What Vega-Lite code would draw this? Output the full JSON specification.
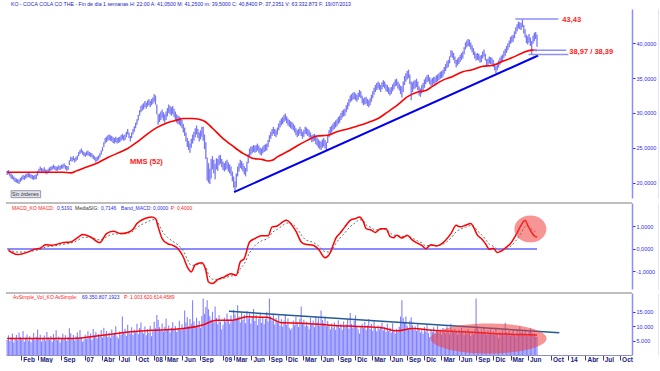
{
"$schema":"https://vega.github.io/schema/vega-lite/v6.json",
"padding":{"left":3,"top":1,"right":0,"bottom":0},
"background":"white",
"title":{"text":"KO - COCA COLA CO THE - Fin de día 1 semanas H: 22:00 A: 41,0500 M: 41,2500 m: 39,5000 C: 40,8400 P: 37,2351 V: 63.332.873 F: 19/07/2013","anchor":"start","fontSize":5.2,"font":"Liberation Sans","fontWeight":"normal","color":"#2424c8","offset":2,"dx":7},
"config":{"view":{"stroke":null},"text":{"font":"Liberation Sans"}},
"spacing":3,
"datasets":{
"w":[
{"t":"2005-11-18","h":21.7,"l":21.1,"v":5200},{"t":"2005-11-25","h":21.8,"l":21.2,"v":6800},{"t":"2005-12-02","h":21.5,"l":20.9,"v":4800},{"t":"2005-12-09","h":21.3,"l":20.6,"v":6100},{"t":"2005-12-16","h":21.1,"l":20.5,"v":7400},{"t":"2005-12-23","h":20.9,"l":20.3,"v":4300},{"t":"2005-12-30","h":20.7,"l":20.1,"v":5600},
{"t":"2006-01-06","h":20.6,"l":20.0,"v":6900},{"t":"2006-01-13","h":20.5,"l":19.9,"v":5100},{"t":"2006-01-20","h":20.4,"l":19.8,"v":7800},{"t":"2006-01-27","h":20.7,"l":20.1,"v":6200},{"t":"2006-02-03","h":20.9,"l":20.3,"v":5400},{"t":"2006-02-10","h":21.1,"l":20.5,"v":8300},{"t":"2006-02-17","h":21.0,"l":20.4,"v":4600},{"t":"2006-02-24","h":21.2,"l":20.6,"v":6000},{"t":"2006-03-03","h":21.3,"l":20.7,"v":7100},{"t":"2006-03-10","h":21.4,"l":20.8,"v":5000},{"t":"2006-03-17","h":21.3,"l":20.7,"v":6500},{"t":"2006-03-24","h":21.2,"l":20.6,"v":4400},{"t":"2006-03-31","h":21.1,"l":20.5,"v":5800},{"t":"2006-04-07","h":21.0,"l":20.4,"v":7600},{"t":"2006-04-14","h":21.1,"l":20.5,"v":5200},{"t":"2006-04-21","h":21.2,"l":20.5,"v":6300},{"t":"2006-04-28","h":21.7,"l":21.0,"v":8800},{"t":"2006-05-05","h":22.0,"l":21.4,"v":5900},{"t":"2006-05-12","h":22.3,"l":21.7,"v":7000},{"t":"2006-05-19","h":22.1,"l":21.5,"v":4700},{"t":"2006-05-26","h":22.0,"l":21.4,"v":5500},{"t":"2006-06-02","h":22.2,"l":21.6,"v":6700},{"t":"2006-06-09","h":21.9,"l":21.3,"v":4900},{"t":"2006-06-16","h":21.8,"l":21.2,"v":7900},{"t":"2006-06-23","h":22.0,"l":21.4,"v":6100},{"t":"2006-06-30","h":22.2,"l":21.6,"v":5300},{"t":"2006-07-07","h":22.3,"l":21.7,"v":6600},{"t":"2006-07-14","h":22.4,"l":21.8,"v":4500},{"t":"2006-07-21","h":22.6,"l":22.0,"v":7200},{"t":"2006-07-28","h":22.4,"l":21.8,"v":5700},{"t":"2006-08-04","h":22.3,"l":21.7,"v":8500},{"t":"2006-08-11","h":22.3,"l":21.7,"v":5100},{"t":"2006-08-18","h":22.5,"l":21.9,"v":6400},{"t":"2006-08-25","h":22.4,"l":21.8,"v":4200},{"t":"2006-09-01","h":22.6,"l":22.0,"v":5900},{"t":"2006-09-08","h":22.6,"l":22.0,"v":7300},{"t":"2006-09-15","h":22.8,"l":22.2,"v":5500},{"t":"2006-09-22","h":22.5,"l":21.9,"v":6800},{"t":"2006-09-29","h":22.4,"l":21.7,"v":4800},{"t":"2006-10-06","h":22.4,"l":21.8,"v":6200},{"t":"2006-10-13","h":23.2,"l":22.5,"v":9200},{"t":"2006-10-20","h":23.7,"l":23.1,"v":7500},{"t":"2006-10-27","h":23.6,"l":23.0,"v":5600},{"t":"2006-11-03","h":23.8,"l":23.2,"v":6900},{"t":"2006-11-10","h":23.5,"l":22.9,"v":5000},{"t":"2006-11-17","h":23.7,"l":23.1,"v":6400},{"t":"2006-11-24","h":23.9,"l":23.3,"v":7800},{"t":"2006-12-01","h":24.4,"l":23.8,"v":5800},{"t":"2006-12-08","h":24.7,"l":24.1,"v":8600},{"t":"2006-12-15","h":24.9,"l":24.3,"v":6200},{"t":"2006-12-22","h":24.6,"l":24.0,"v":4600},{"t":"2006-12-29","h":24.4,"l":23.8,"v":5300},
{"t":"2007-01-05","h":24.3,"l":23.7,"v":7000},{"t":"2007-01-12","h":24.5,"l":23.9,"v":5600},{"t":"2007-01-19","h":24.6,"l":23.9,"v":8200},{"t":"2007-01-26","h":24.4,"l":23.8,"v":6300},{"t":"2007-02-02","h":24.3,"l":23.7,"v":7400},{"t":"2007-02-09","h":24.2,"l":23.6,"v":5200},{"t":"2007-02-16","h":24.0,"l":23.4,"v":9000},{"t":"2007-02-23","h":23.8,"l":23.2,"v":6700},{"t":"2007-03-02","h":23.6,"l":22.9,"v":7900},{"t":"2007-03-09","h":23.7,"l":23.1,"v":5800},{"t":"2007-03-16","h":23.9,"l":23.3,"v":7200},{"t":"2007-03-23","h":24.2,"l":23.6,"v":6500},{"t":"2007-03-30","h":24.6,"l":24.0,"v":8600},{"t":"2007-04-06","h":25.1,"l":24.5,"v":6000},{"t":"2007-04-13","h":25.8,"l":25.1,"v":9400},{"t":"2007-04-20","h":26.4,"l":25.6,"v":7100},{"t":"2007-04-27","h":26.6,"l":25.8,"v":8300},{"t":"2007-05-04","h":26.8,"l":26.0,"v":6200},{"t":"2007-05-11","h":26.9,"l":26.1,"v":7700},{"t":"2007-05-18","h":26.8,"l":26.0,"v":5900},{"t":"2007-05-25","h":26.7,"l":25.9,"v":8800},{"t":"2007-06-01","h":26.5,"l":25.7,"v":6800},{"t":"2007-06-08","h":26.4,"l":25.6,"v":7400},{"t":"2007-06-15","h":26.6,"l":25.8,"v":9900},{"t":"2007-06-22","h":26.4,"l":25.6,"v":6400},{"t":"2007-06-29","h":26.5,"l":25.7,"v":5700},{"t":"2007-07-06","h":26.6,"l":25.8,"v":8100},{"t":"2007-07-13","h":26.8,"l":26.0,"v":7000},{"t":"2007-07-20","h":27.0,"l":26.2,"v":13300},{"t":"2007-07-27","h":26.8,"l":26.0,"v":7600},{"t":"2007-08-03","h":26.9,"l":26.1,"v":9100},{"t":"2007-08-10","h":27.3,"l":26.5,"v":6600},{"t":"2007-08-17","h":27.7,"l":26.9,"v":10400},{"t":"2007-08-24","h":27.2,"l":26.4,"v":8200},{"t":"2007-08-31","h":26.7,"l":25.9,"v":7300},{"t":"2007-09-07","h":27.2,"l":26.4,"v":9600},{"t":"2007-09-14","h":27.7,"l":26.9,"v":6900},{"t":"2007-09-21","h":28.1,"l":27.3,"v":8700},{"t":"2007-09-28","h":28.6,"l":27.8,"v":7800},{"t":"2007-10-05","h":29.1,"l":28.3,"v":10800},{"t":"2007-10-12","h":29.7,"l":28.9,"v":7200},{"t":"2007-10-19","h":30.4,"l":29.6,"v":9300},{"t":"2007-10-26","h":31.0,"l":30.1,"v":11200},{"t":"2007-11-02","h":31.2,"l":30.3,"v":8000},{"t":"2007-11-09","h":31.4,"l":30.5,"v":7400},{"t":"2007-11-16","h":31.7,"l":30.8,"v":9800},{"t":"2007-11-23","h":31.5,"l":30.6,"v":6800},{"t":"2007-11-30","h":31.8,"l":30.9,"v":8900},{"t":"2007-12-07","h":32.0,"l":31.1,"v":7600},{"t":"2007-12-14","h":31.7,"l":30.8,"v":10100},{"t":"2007-12-21","h":32.0,"l":31.1,"v":6500},{"t":"2007-12-28","h":32.2,"l":31.3,"v":8400},
{"t":"2008-01-04","h":32.7,"l":31.6,"v":11500},{"t":"2008-01-11","h":32.5,"l":31.2,"v":9200},{"t":"2008-01-18","h":31.2,"l":29.8,"v":13800},{"t":"2008-01-25","h":29.8,"l":28.3,"v":12100},{"t":"2008-02-01","h":29.9,"l":28.7,"v":9600},{"t":"2008-02-08","h":30.2,"l":29.0,"v":8400},{"t":"2008-02-15","h":30.5,"l":29.3,"v":10900},{"t":"2008-02-22","h":30.1,"l":28.9,"v":8100},{"t":"2008-02-29","h":29.8,"l":28.6,"v":9700},{"t":"2008-03-07","h":30.2,"l":29.0,"v":12600},{"t":"2008-03-14","h":30.7,"l":29.5,"v":8900},{"t":"2008-03-21","h":31.2,"l":30.0,"v":10200},{"t":"2008-03-28","h":31.0,"l":29.8,"v":7800},{"t":"2008-04-04","h":30.8,"l":29.6,"v":9400},{"t":"2008-04-11","h":31.0,"l":29.8,"v":11300},{"t":"2008-04-18","h":30.6,"l":29.4,"v":8600},{"t":"2008-04-25","h":30.2,"l":29.0,"v":10000},{"t":"2008-05-02","h":29.8,"l":28.6,"v":7900},{"t":"2008-05-09","h":29.6,"l":28.4,"v":9200},{"t":"2008-05-16","h":29.5,"l":28.3,"v":11800},{"t":"2008-05-23","h":29.3,"l":28.1,"v":8700},{"t":"2008-05-30","h":29.0,"l":27.8,"v":10600},{"t":"2008-06-06","h":28.4,"l":27.2,"v":9300},{"t":"2008-06-13","h":27.9,"l":26.7,"v":15400},{"t":"2008-06-20","h":27.2,"l":25.9,"v":11200},{"t":"2008-06-27","h":26.4,"l":25.1,"v":13000},{"t":"2008-07-04","h":26.0,"l":24.7,"v":9900},{"t":"2008-07-11","h":25.6,"l":24.3,"v":12400},{"t":"2008-07-18","h":26.3,"l":25.0,"v":10800},{"t":"2008-07-25","h":26.9,"l":25.6,"v":18900},{"t":"2008-08-01","h":27.3,"l":26.0,"v":11600},{"t":"2008-08-08","h":27.8,"l":26.5,"v":9800},{"t":"2008-08-15","h":28.2,"l":26.9,"v":12900},{"t":"2008-08-22","h":27.7,"l":26.4,"v":10300},{"t":"2008-08-29","h":27.2,"l":25.9,"v":11700},{"t":"2008-09-05","h":27.5,"l":26.2,"v":9400},{"t":"2008-09-12","h":28.0,"l":26.6,"v":13500},{"t":"2008-09-19","h":28.0,"l":26.0,"v":19500},{"t":"2008-09-26","h":26.9,"l":24.8,"v":14200},{"t":"2008-10-03","h":25.8,"l":23.4,"v":16600},{"t":"2008-10-10","h":23.6,"l":20.3,"v":18900},{"t":"2008-10-17","h":22.8,"l":20.0,"v":15800},{"t":"2008-10-24","h":22.0,"l":19.8,"v":13400},{"t":"2008-10-31","h":23.4,"l":20.6,"v":12200},{"t":"2008-11-07","h":23.8,"l":21.9,"v":14900},{"t":"2008-11-14","h":23.3,"l":21.3,"v":11300},{"t":"2008-11-21","h":22.7,"l":20.5,"v":16700},{"t":"2008-11-28","h":23.5,"l":21.9,"v":12800},{"t":"2008-12-05","h":23.4,"l":21.7,"v":10600},{"t":"2008-12-12","h":23.9,"l":22.5,"v":13700},{"t":"2008-12-19","h":24.0,"l":22.7,"v":11400},{"t":"2008-12-26","h":23.4,"l":22.2,"v":8900},
{"t":"2009-01-02","h":23.0,"l":21.8,"v":10400},{"t":"2009-01-09","h":22.8,"l":21.6,"v":12900},{"t":"2009-01-16","h":23.1,"l":21.8,"v":11500},{"t":"2009-01-23","h":23.3,"l":22.0,"v":14300},{"t":"2009-01-30","h":22.9,"l":21.6,"v":12200},{"t":"2009-02-06","h":22.6,"l":21.3,"v":10800},{"t":"2009-02-13","h":22.3,"l":21.0,"v":13600},{"t":"2009-02-20","h":21.6,"l":20.2,"v":11900},{"t":"2009-02-27","h":20.9,"l":19.3,"v":15600},{"t":"2009-03-06","h":20.2,"l":18.7,"v":14100},{"t":"2009-03-13","h":21.3,"l":19.3,"v":12700},{"t":"2009-03-20","h":22.3,"l":20.9,"v":17200},{"t":"2009-03-27","h":22.8,"l":21.6,"v":13300},{"t":"2009-04-03","h":23.3,"l":22.1,"v":11200},{"t":"2009-04-10","h":23.1,"l":21.9,"v":14800},{"t":"2009-04-17","h":22.8,"l":21.6,"v":12100},{"t":"2009-04-24","h":22.4,"l":21.2,"v":13900},{"t":"2009-05-01","h":22.1,"l":20.9,"v":11000},{"t":"2009-05-08","h":23.0,"l":21.6,"v":15200},{"t":"2009-05-15","h":24.1,"l":22.8,"v":12600},{"t":"2009-05-22","h":24.9,"l":23.7,"v":14400},{"t":"2009-05-29","h":25.2,"l":24.0,"v":10900},{"t":"2009-06-05","h":25.2,"l":24.2,"v":13100},{"t":"2009-06-12","h":25.4,"l":24.4,"v":15900},{"t":"2009-06-19","h":25.3,"l":24.3,"v":11700},{"t":"2009-06-26","h":25.4,"l":24.4,"v":13800},{"t":"2009-07-03","h":25.6,"l":24.6,"v":10300},{"t":"2009-07-10","h":25.3,"l":24.3,"v":12400},{"t":"2009-07-17","h":25.0,"l":24.0,"v":14600},{"t":"2009-07-24","h":24.9,"l":23.9,"v":11100},{"t":"2009-07-31","h":25.2,"l":24.2,"v":13200},{"t":"2009-08-07","h":25.4,"l":24.4,"v":10700},{"t":"2009-08-14","h":25.5,"l":24.5,"v":12500},{"t":"2009-08-21","h":25.6,"l":24.6,"v":14900},{"t":"2009-08-28","h":26.1,"l":25.1,"v":11600},{"t":"2009-09-04","h":26.8,"l":25.8,"v":19500},{"t":"2009-09-11","h":27.3,"l":26.3,"v":13400},{"t":"2009-09-18","h":27.7,"l":26.7,"v":11900},{"t":"2009-09-25","h":28.0,"l":27.0,"v":14200},{"t":"2009-10-02","h":27.7,"l":26.7,"v":10500},{"t":"2009-10-09","h":27.5,"l":26.5,"v":12800},{"t":"2009-10-16","h":27.9,"l":26.9,"v":11300},{"t":"2009-10-23","h":28.5,"l":27.5,"v":13700},{"t":"2009-10-30","h":28.9,"l":27.9,"v":10100},{"t":"2009-11-06","h":29.2,"l":28.2,"v":12300},{"t":"2009-11-13","h":29.4,"l":28.4,"v":9800},{"t":"2009-11-20","h":29.7,"l":28.7,"v":11800},{"t":"2009-11-27","h":29.9,"l":28.9,"v":14100},{"t":"2009-12-04","h":29.5,"l":28.5,"v":10400},{"t":"2009-12-11","h":29.2,"l":28.2,"v":12600},{"t":"2009-12-18","h":29.0,"l":28.0,"v":9400},{"t":"2009-12-25","h":28.8,"l":27.8,"v":8700},
{"t":"2010-01-01","h":28.7,"l":27.7,"v":9200},{"t":"2010-01-08","h":28.5,"l":27.5,"v":11900},{"t":"2010-01-15","h":28.2,"l":27.2,"v":10300},{"t":"2010-01-22","h":27.8,"l":26.8,"v":13100},{"t":"2010-01-29","h":27.5,"l":26.5,"v":11400},{"t":"2010-02-05","h":27.7,"l":26.7,"v":9700},{"t":"2010-02-12","h":28.0,"l":27.0,"v":12500},{"t":"2010-02-19","h":27.7,"l":26.7,"v":16700},{"t":"2010-02-26","h":27.3,"l":26.3,"v":10900},{"t":"2010-03-05","h":27.6,"l":26.6,"v":12200},{"t":"2010-03-12","h":28.0,"l":27.0,"v":9800},{"t":"2010-03-19","h":27.9,"l":26.9,"v":11500},{"t":"2010-03-26","h":27.7,"l":26.7,"v":10100},{"t":"2010-04-02","h":27.5,"l":26.5,"v":8900},{"t":"2010-04-09","h":27.2,"l":26.2,"v":12800},{"t":"2010-04-16","h":26.8,"l":25.8,"v":10600},{"t":"2010-04-23","h":26.9,"l":25.9,"v":11900},{"t":"2010-04-30","h":27.0,"l":26.0,"v":9600},{"t":"2010-05-07","h":26.8,"l":25.5,"v":13400},{"t":"2010-05-14","h":26.5,"l":25.3,"v":11200},{"t":"2010-05-21","h":26.2,"l":25.0,"v":12700},{"t":"2010-05-28","h":26.0,"l":24.8,"v":10200},{"t":"2010-06-04","h":25.9,"l":24.7,"v":15400},{"t":"2010-06-11","h":26.2,"l":25.0,"v":12100},{"t":"2010-06-18","h":26.4,"l":25.2,"v":11000},{"t":"2010-06-25","h":26.1,"l":24.9,"v":13300},{"t":"2010-07-02","h":25.8,"l":24.6,"v":9900},{"t":"2010-07-09","h":26.9,"l":25.7,"v":11700},{"t":"2010-07-16","h":27.5,"l":26.5,"v":10400},{"t":"2010-07-23","h":28.0,"l":27.0,"v":8800},{"t":"2010-07-30","h":28.2,"l":27.2,"v":10900},{"t":"2010-08-06","h":28.5,"l":27.5,"v":9500},{"t":"2010-08-13","h":28.7,"l":27.7,"v":11300},{"t":"2010-08-20","h":28.9,"l":27.9,"v":8600},{"t":"2010-08-27","h":29.1,"l":28.1,"v":10200},{"t":"2010-09-03","h":29.4,"l":28.4,"v":12000},{"t":"2010-09-10","h":29.6,"l":28.6,"v":9300},{"t":"2010-09-17","h":30.0,"l":29.0,"v":10800},{"t":"2010-09-24","h":30.3,"l":29.3,"v":8700},{"t":"2010-10-01","h":30.5,"l":29.5,"v":11600},{"t":"2010-10-08","h":30.6,"l":29.6,"v":9800},{"t":"2010-10-15","h":31.1,"l":30.1,"v":10500},{"t":"2010-10-22","h":31.5,"l":30.5,"v":12300},{"t":"2010-10-29","h":32.0,"l":31.0,"v":9100},{"t":"2010-11-05","h":32.5,"l":31.5,"v":14500},{"t":"2010-11-12","h":32.7,"l":31.7,"v":10700},{"t":"2010-11-19","h":32.9,"l":31.9,"v":9400},{"t":"2010-11-26","h":33.0,"l":32.0,"v":11800},{"t":"2010-12-03","h":32.8,"l":31.8,"v":13700},{"t":"2010-12-10","h":32.6,"l":31.6,"v":10000},{"t":"2010-12-17","h":32.9,"l":31.9,"v":8900},{"t":"2010-12-24","h":33.3,"l":32.3,"v":7400},{"t":"2010-12-31","h":33.1,"l":32.1,"v":9600},
{"t":"2011-01-07","h":32.5,"l":31.4,"v":10800},{"t":"2011-01-14","h":32.1,"l":31.1,"v":9300},{"t":"2011-01-21","h":32.2,"l":31.2,"v":11500},{"t":"2011-01-28","h":32.3,"l":31.3,"v":8600},{"t":"2011-02-04","h":32.0,"l":31.0,"v":10200},{"t":"2011-02-11","h":31.8,"l":30.8,"v":12400},{"t":"2011-02-18","h":32.1,"l":31.1,"v":9000},{"t":"2011-02-25","h":32.6,"l":31.6,"v":10700},{"t":"2011-03-04","h":33.1,"l":32.1,"v":8400},{"t":"2011-03-11","h":33.6,"l":32.6,"v":11900},{"t":"2011-03-18","h":34.0,"l":33.0,"v":9500},{"t":"2011-03-25","h":34.3,"l":33.3,"v":8200},{"t":"2011-04-01","h":34.5,"l":33.5,"v":10300},{"t":"2011-04-08","h":34.3,"l":33.3,"v":8800},{"t":"2011-04-15","h":34.0,"l":33.0,"v":9900},{"t":"2011-04-22","h":34.4,"l":33.4,"v":11200},{"t":"2011-04-29","h":34.7,"l":33.7,"v":8500},{"t":"2011-05-06","h":34.5,"l":33.5,"v":9600},{"t":"2011-05-13","h":34.1,"l":33.1,"v":7900},{"t":"2011-05-20","h":34.0,"l":33.0,"v":10800},{"t":"2011-05-27","h":33.7,"l":32.7,"v":8300},{"t":"2011-06-03","h":33.5,"l":32.5,"v":9400},{"t":"2011-06-10","h":33.7,"l":32.7,"v":7700},{"t":"2011-06-17","h":34.1,"l":33.1,"v":11000},{"t":"2011-06-24","h":34.4,"l":33.4,"v":8600},{"t":"2011-07-01","h":34.8,"l":33.8,"v":7400},{"t":"2011-07-08","h":34.9,"l":33.9,"v":9100},{"t":"2011-07-15","h":34.5,"l":33.5,"v":8000},{"t":"2011-07-22","h":34.2,"l":33.2,"v":9800},{"t":"2011-07-29","h":33.9,"l":32.7,"v":13300},{"t":"2011-08-05","h":33.8,"l":32.2,"v":18900},{"t":"2011-08-12","h":34.5,"l":33.0,"v":12800},{"t":"2011-08-19","h":35.3,"l":34.0,"v":11400},{"t":"2011-08-26","h":35.7,"l":34.5,"v":13300},{"t":"2011-09-02","h":36.0,"l":34.8,"v":10100},{"t":"2011-09-09","h":36.2,"l":35.0,"v":9200},{"t":"2011-09-16","h":35.5,"l":34.1,"v":11800},{"t":"2011-09-23","h":34.5,"l":31.8,"v":13000},{"t":"2011-09-30","h":34.4,"l":33.0,"v":10300},{"t":"2011-10-07","h":34.6,"l":33.4,"v":8700},{"t":"2011-10-14","h":34.7,"l":33.5,"v":9900},{"t":"2011-10-21","h":34.9,"l":33.7,"v":8300},{"t":"2011-10-28","h":34.5,"l":33.3,"v":10600},{"t":"2011-11-04","h":33.8,"l":32.5,"v":9200},{"t":"2011-11-11","h":33.5,"l":32.3,"v":7800},{"t":"2011-11-18","h":34.0,"l":32.8,"v":8900},{"t":"2011-11-25","h":34.3,"l":33.1,"v":7300},{"t":"2011-12-02","h":34.8,"l":33.6,"v":9700},{"t":"2011-12-09","h":35.1,"l":34.1,"v":8100},{"t":"2011-12-16","h":35.4,"l":34.4,"v":10400},{"t":"2011-12-23","h":35.5,"l":34.5,"v":7600},{"t":"2011-12-30","h":35.1,"l":34.1,"v":6200},
{"t":"2012-01-06","h":34.8,"l":33.8,"v":8800},{"t":"2012-01-13","h":35.0,"l":34.0,"v":7900},{"t":"2012-01-20","h":35.2,"l":34.2,"v":9600},{"t":"2012-01-27","h":35.1,"l":34.1,"v":7200},{"t":"2012-02-03","h":35.4,"l":34.4,"v":8500},{"t":"2012-02-10","h":35.5,"l":34.5,"v":10200},{"t":"2012-02-17","h":35.7,"l":34.7,"v":7600},{"t":"2012-02-24","h":35.9,"l":34.9,"v":8900},{"t":"2012-03-02","h":36.0,"l":35.0,"v":7000},{"t":"2012-03-09","h":36.2,"l":35.2,"v":9300},{"t":"2012-03-16","h":36.6,"l":35.6,"v":8100},{"t":"2012-03-23","h":37.0,"l":36.0,"v":7400},{"t":"2012-03-30","h":37.4,"l":36.4,"v":9900},{"t":"2012-04-06","h":37.6,"l":36.6,"v":8300},{"t":"2012-04-13","h":38.1,"l":37.1,"v":7100},{"t":"2012-04-20","h":39.0,"l":38.0,"v":10800},{"t":"2012-04-27","h":38.9,"l":37.9,"v":8600},{"t":"2012-05-04","h":38.6,"l":37.6,"v":7800},{"t":"2012-05-11","h":38.1,"l":37.1,"v":9100},{"t":"2012-05-18","h":37.6,"l":36.5,"v":8200},{"t":"2012-05-25","h":37.8,"l":36.8,"v":6900},{"t":"2012-06-01","h":38.0,"l":37.0,"v":8700},{"t":"2012-06-08","h":38.3,"l":37.3,"v":7500},{"t":"2012-06-15","h":38.6,"l":37.6,"v":9400},{"t":"2012-06-22","h":38.8,"l":37.8,"v":8000},{"t":"2012-06-29","h":39.4,"l":38.4,"v":6800},{"t":"2012-07-06","h":40.1,"l":39.1,"v":8500},{"t":"2012-07-13","h":40.4,"l":39.4,"v":7300},{"t":"2012-07-20","h":40.6,"l":39.6,"v":9000},{"t":"2012-07-27","h":40.5,"l":39.5,"v":7700},{"t":"2012-08-03","h":40.1,"l":39.1,"v":6600},{"t":"2012-08-10","h":39.7,"l":38.7,"v":8300},{"t":"2012-08-17","h":39.3,"l":38.3,"v":7100},{"t":"2012-08-24","h":38.8,"l":37.8,"v":8900},{"t":"2012-08-31","h":38.5,"l":37.5,"v":19500},{"t":"2012-09-07","h":38.6,"l":37.6,"v":9800},{"t":"2012-09-14","h":38.5,"l":37.5,"v":8400},{"t":"2012-09-21","h":38.2,"l":37.2,"v":7200},{"t":"2012-09-28","h":38.3,"l":37.3,"v":8800},{"t":"2012-10-05","h":38.8,"l":37.8,"v":7600},{"t":"2012-10-12","h":39.1,"l":38.1,"v":9300},{"t":"2012-10-19","h":38.5,"l":37.5,"v":8100},{"t":"2012-10-26","h":37.7,"l":36.7,"v":6900},{"t":"2012-11-02","h":37.8,"l":36.8,"v":8600},{"t":"2012-11-09","h":38.1,"l":37.1,"v":7400},{"t":"2012-11-16","h":38.0,"l":37.0,"v":8900},{"t":"2012-11-23","h":37.9,"l":36.9,"v":7000},{"t":"2012-11-30","h":37.6,"l":36.6,"v":8200},{"t":"2012-12-07","h":37.1,"l":36.1,"v":6700},{"t":"2012-12-14","h":36.7,"l":35.7,"v":9500},{"t":"2012-12-21","h":37.1,"l":36.1,"v":7300},{"t":"2012-12-28","h":37.5,"l":36.5,"v":5800},
{"t":"2013-01-04","h":37.9,"l":36.9,"v":8100},{"t":"2013-01-11","h":38.2,"l":37.2,"v":7200},{"t":"2013-01-18","h":38.4,"l":37.4,"v":8700},{"t":"2013-01-25","h":38.9,"l":37.9,"v":6800},{"t":"2013-02-01","h":39.2,"l":38.2,"v":11100},{"t":"2013-02-08","h":39.6,"l":38.6,"v":7900},{"t":"2013-02-15","h":40.0,"l":39.0,"v":7000},{"t":"2013-02-22","h":40.4,"l":39.4,"v":8300},{"t":"2013-03-01","h":40.9,"l":39.9,"v":6600},{"t":"2013-03-08","h":41.1,"l":40.1,"v":7700},{"t":"2013-03-15","h":41.2,"l":40.2,"v":9000},{"t":"2013-03-22","h":41.7,"l":40.7,"v":7300},{"t":"2013-03-29","h":42.3,"l":41.3,"v":6400},{"t":"2013-04-05","h":42.7,"l":41.7,"v":8500},{"t":"2013-04-12","h":43.1,"l":42.1,"v":7100},{"t":"2013-04-19","h":43.0,"l":42.0,"v":9800},{"t":"2013-04-26","h":42.9,"l":41.9,"v":7600},{"t":"2013-05-03","h":43.43,"l":42.3,"v":8200},{"t":"2013-05-10","h":42.6,"l":41.4,"v":6900},{"t":"2013-05-17","h":42.0,"l":40.8,"v":8800},{"t":"2013-05-24","h":41.2,"l":40.0,"v":7400},{"t":"2013-05-31","h":41.0,"l":39.8,"v":6500},{"t":"2013-06-07","h":41.3,"l":40.1,"v":8000},{"t":"2013-06-14","h":40.8,"l":39.6,"v":9200},{"t":"2013-06-21","h":40.3,"l":38.39,"v":7800},{"t":"2013-06-28","h":41.1,"l":39.9,"v":6700},{"t":"2013-07-05","h":41.5,"l":40.3,"v":7500},{"t":"2013-07-12","h":41.6,"l":40.6,"v":6300},{"t":"2013-07-19","h":41.25,"l":39.5,"v":6333}
],
"ma":[
{"t":"2005-11-18","m":21.5},{"t":"2006-03-31","m":21.5},{"t":"2006-09-08","m":21.5},{"t":"2006-10-20","m":21.4},{"t":"2006-11-24","m":21.75},{"t":"2007-01-19","m":22.3},{"t":"2007-03-16","m":22.9},{"t":"2007-05-04","m":23.6},{"t":"2007-06-22","m":24.2},{"t":"2007-08-17","m":24.9},{"t":"2007-10-05","m":25.8},{"t":"2007-11-30","m":27.0},{"t":"2008-01-25","m":28.0},{"t":"2008-03-14","m":28.6},{"t":"2008-05-09","m":29.0},{"t":"2008-06-06","m":29.2},{"t":"2008-07-25","m":29.2},{"t":"2008-09-19","m":28.9},{"t":"2008-11-07","m":27.8},{"t":"2008-12-26","m":26.5},{"t":"2009-02-20","m":25.3},{"t":"2009-04-17","m":24.2},{"t":"2009-05-15","m":23.8},{"t":"2009-06-05","m":23.5},{"t":"2009-07-31","m":23.3},{"t":"2009-08-28","m":23.1},{"t":"2009-09-18","m":23.2},{"t":"2009-10-16","m":23.7},{"t":"2009-12-11","m":24.5},{"t":"2010-01-29","m":25.3},{"t":"2010-03-26","m":26.1},{"t":"2010-05-14","m":26.7},{"t":"2010-07-09","m":26.8},{"t":"2010-08-27","m":27.3},{"t":"2010-10-22","m":27.7},{"t":"2010-12-10","m":28.1},{"t":"2011-02-04","m":28.6},{"t":"2011-04-01","m":29.2},{"t":"2011-05-20","m":30.1},{"t":"2011-07-15","m":31.2},{"t":"2011-09-02","m":32.3},{"t":"2011-10-28","m":33.0},{"t":"2011-12-09","m":33.2},{"t":"2012-01-13","m":33.8},{"t":"2012-03-09","m":34.7},{"t":"2012-04-27","m":35.2},{"t":"2012-06-22","m":35.9},{"t":"2012-08-10","m":36.2},{"t":"2012-10-05","m":36.7},{"t":"2012-11-23","m":36.8},{"t":"2013-01-18","m":37.4},{"t":"2013-03-08","m":37.9},{"t":"2013-05-03","m":38.6},{"t":"2013-06-21","m":39.0},{"t":"2013-07-19","m":38.97}
],
"macd":[
{"t":"2005-11-25","m":-0.06,"s":-0.02},{"t":"2006-01-13","m":-0.25,"s":-0.14},{"t":"2006-03-10","m":-0.13,"s":-0.13},{"t":"2006-04-14","m":-0.01,"s":-0.07},{"t":"2006-05-12","m":0.03,"s":-0.02},{"t":"2006-06-09","m":0.19,"s":0.08},{"t":"2006-07-14","m":0.16,"s":0.12},{"t":"2006-09-08","m":0.28,"s":0.20},{"t":"2006-10-20","m":0.31,"s":0.26},{"t":"2006-11-24","m":0.49,"s":0.37},{"t":"2006-12-22","m":0.64,"s":0.50},{"t":"2007-02-02","m":0.53,"s":0.52},{"t":"2007-03-23","m":0.28,"s":0.40},{"t":"2007-04-27","m":0.68,"s":0.54},{"t":"2007-06-01","m":0.79,"s":0.66},{"t":"2007-07-13","m":0.68,"s":0.67},{"t":"2007-08-17","m":0.73,"s":0.70},{"t":"2007-09-14","m":0.87,"s":0.78},{"t":"2007-10-05","m":1.13,"s":0.95},{"t":"2007-11-16","m":1.35,"s":1.15},{"t":"2007-12-21","m":1.42,"s":1.28},{"t":"2008-01-11","m":1.35,"s":1.32},{"t":"2008-01-25","m":0.98,"s":1.15},{"t":"2008-02-15","m":0.46,"s":0.80},{"t":"2008-03-14","m":0.24,"s":0.52},{"t":"2008-04-11","m":0.16,"s":0.34},{"t":"2008-05-09","m":0.01,"s":0.18},{"t":"2008-06-06","m":-0.36,"s":-0.09},{"t":"2008-06-27","m":-0.8,"s":-0.45},{"t":"2008-07-18","m":-1.02,"s":-0.73},{"t":"2008-08-08","m":-0.7,"s":-0.72},{"t":"2008-09-12","m":-0.61,"s":-0.66},{"t":"2008-10-03","m":-0.95,"s":-0.80},{"t":"2008-10-17","m":-1.47,"s":-1.14},{"t":"2008-11-07","m":-1.54,"s":-1.34},{"t":"2008-12-05","m":-1.36,"s":-1.35},{"t":"2009-01-09","m":-1.24,"s":-1.30},{"t":"2009-02-13","m":-1.1,"s":-1.20},{"t":"2009-03-13","m":-1.17,"s":-1.18},{"t":"2009-04-03","m":-0.58,"s":-0.88},{"t":"2009-04-24","m":-0.43,"s":-0.66},{"t":"2009-05-22","m":0.31,"s":-0.18},{"t":"2009-06-19","m":0.46,"s":0.14},{"t":"2009-07-24","m":0.58,"s":0.36},{"t":"2009-08-28","m":0.58,"s":0.47},{"t":"2009-09-18","m":0.98,"s":0.72},{"t":"2009-10-16","m":1.02,"s":0.87},{"t":"2009-11-13","m":1.2,"s":1.04},{"t":"2009-12-04","m":1.27,"s":1.15},{"t":"2009-12-25","m":1.13,"s":1.14},{"t":"2010-01-22","m":0.79,"s":0.97},{"t":"2010-02-19","m":0.31,"s":0.64},{"t":"2010-03-12","m":0.21,"s":0.42},{"t":"2010-04-23","m":0.16,"s":0.29},{"t":"2010-05-21","m":-0.01,"s":0.14},{"t":"2010-06-25","m":-0.39,"s":-0.12},{"t":"2010-07-23","m":-0.16,"s":-0.14},{"t":"2010-08-06","m":0.16,"s":0.01},{"t":"2010-08-20","m":0.46,"s":0.23},{"t":"2010-09-10","m":0.68,"s":0.46},{"t":"2010-10-08","m":0.98,"s":0.72},{"t":"2010-11-05","m":1.27,"s":0.99},{"t":"2010-12-03","m":1.35,"s":1.17},{"t":"2010-12-24","m":1.42,"s":1.30},{"t":"2011-01-14","m":1.2,"s":1.25},{"t":"2011-01-28","m":0.9,"s":1.07},{"t":"2011-02-25","m":0.83,"s":0.95},{"t":"2011-03-18","m":0.73,"s":0.84},{"t":"2011-04-15","m":0.9,"s":0.87},{"t":"2011-05-13","m":0.9,"s":0.88},{"t":"2011-06-03","m":0.56,"s":0.72},{"t":"2011-06-24","m":0.5,"s":0.61},{"t":"2011-07-08","m":0.61,"s":0.61},{"t":"2011-08-05","m":0.48,"s":0.55},{"t":"2011-09-02","m":0.61,"s":0.58},{"t":"2011-09-30","m":0.39,"s":0.48},{"t":"2011-10-21","m":0.28,"s":0.38},{"t":"2011-11-18","m":0.16,"s":0.27},{"t":"2011-12-09","m":0.01,"s":0.14},{"t":"2012-01-06","m":0.19,"s":0.16},{"t":"2012-02-03","m":0.13,"s":0.15},{"t":"2012-02-24","m":0.19,"s":0.17},{"t":"2012-03-23","m":0.39,"s":0.28},{"t":"2012-04-20","m":0.68,"s":0.48},{"t":"2012-05-18","m":1.05,"s":0.76},{"t":"2012-06-08","m":0.98,"s":0.87},{"t":"2012-07-06","m":1.05,"s":0.96},{"t":"2012-08-03","m":1.13,"s":1.04},{"t":"2012-08-17","m":0.98,"s":1.01},{"t":"2012-09-07","m":0.61,"s":0.81},{"t":"2012-09-28","m":0.46,"s":0.64},{"t":"2012-10-19","m":0.24,"s":0.44},{"t":"2012-11-09","m":-0.01,"s":0.21},{"t":"2012-11-30","m":0.03,"s":0.12},{"t":"2012-12-21","m":-0.16,"s":-0.02},{"t":"2013-01-11","m":-0.1,"s":-0.06},{"t":"2013-02-01","m":0.04,"s":-0.01},{"t":"2013-03-01","m":0.24,"s":0.11},{"t":"2013-03-29","m":0.61,"s":0.36},{"t":"2013-04-26","m":1.05,"s":0.70},{"t":"2013-05-17","m":1.27,"s":0.99},{"t":"2013-05-31","m":1.05,"s":1.02},{"t":"2013-06-14","m":0.83,"s":0.92},{"t":"2013-07-05","m":0.58,"s":0.80},{"t":"2013-07-19","m":0.52,"s":0.71}
],
"va":[
{"t":"2005-11-18","a":5690},{"t":"2006-11-03","a":5690},{"t":"2007-04-06","a":6830},{"t":"2007-09-07","a":8000},{"t":"2007-12-28","a":8550},{"t":"2008-06-06","a":9140},{"t":"2008-09-12","a":10280},{"t":"2008-11-28","a":12000},{"t":"2009-02-20","a":12000},{"t":"2009-05-08","a":13170},{"t":"2009-08-21","a":13000},{"t":"2009-11-13","a":11100},{"t":"2010-02-26","a":11000},{"t":"2010-07-23","a":10300},{"t":"2010-11-19","a":9930},{"t":"2011-02-04","a":9720},{"t":"2011-04-22","a":9370},{"t":"2011-07-08","a":8340},{"t":"2011-09-30","a":9140},{"t":"2012-01-13","a":8550},{"t":"2012-06-22","a":8000},{"t":"2012-11-23","a":7410},{"t":"2013-04-26","a":7070},{"t":"2013-07-19","a":6935}
]
},
"vconcat":[
{
"width":626,"height":189,
"encoding":{"x":{"field":"t","type":"temporal","scale":{"domain":[{"year":2005,"month":11,"date":12,"utc":true},{"year":2014,"month":12,"date":3,"utc":true}]},"axis":null}},
"layer":[
{"data":{"name":"w"},"mark":{"type":"rule","color":"#7878f4","strokeWidth":1.3},
 "encoding":{"y":{"field":"l","type":"quantitative","scale":{"domain":[17.8,44.9],"nice":false,"zero":false},
  "axis":{"orient":"right","values":[20,25,30,35,40],"labelExpr":"replace(format(datum.value,'.4f'),'.',',')","title":null,"grid":false,"domainColor":"#8c8cff","domainWidth":1.5,"tickColor":"#3030e0","tickSize":3,"labelColor":"#3030e0","labelFontSize":5.5,"labelFont":"Liberation Sans","labelPadding":1}},
  "y2":{"field":"h"}}},
{"data":{"name":"ma"},"mark":{"type":"line","color":"#ff0000","strokeWidth":1.6,"interpolate":"monotone"},
 "encoding":{"y":{"field":"m","type":"quantitative","axis":{"orient":"right","offset":27,"labels":false,"ticks":false,"domainColor":"#8c8cff","domainWidth":1.5,"title":null,"grid":false}}}},
{"data":{"values":[{"t":"2009-03-01","p":18.64},{"t":"2013-07-25","p":38.23}]},"mark":{"type":"line","color":"#0000ee","strokeWidth":2},
 "encoding":{"y":{"field":"p","type":"quantitative","axis":null}}},
{"data":{"values":[{"t":"2013-03-27","t2":"2013-11-09","p":43.45},{"t":"2013-06-30","t2":"2013-12-21","p":38.97},{"t":"2013-06-04","t2":"2014-01-01","p":38.39}]},"mark":{"type":"rule","color":"#8e8ef8","strokeWidth":1.5},
 "encoding":{"x2":{"field":"t2"},"y":{"field":"p","type":"quantitative","axis":null}}},
{"data":{"values":[{"t":"2013-11-30","p":43.35,"s":"43,43"},{"t":"2014-01-06","p":38.7,"s":"38,97 / 38,39"},{"t":"2007-08-29","p":22.95,"s":"MMS (52)"}]},"mark":{"type":"text","color":"#ff2020","fontWeight":"bold","fontSize":7.5,"align":"left","baseline":"middle"},
 "encoding":{"y":{"field":"p","type":"quantitative","axis":null},"text":{"field":"s"}}},
{"data":{"values":[{"t":"2005-12-09","t2":"2006-05-14","p":17.85,"p2":18.85}]},"mark":{"type":"rect","fill":"#e4e4e4","stroke":"#8080a0","strokeWidth":0.8},
 "encoding":{"x2":{"field":"t2"},"y":{"field":"p","type":"quantitative","axis":null},"y2":{"field":"p2"}}},
{"data":{"values":[{"t":"2005-12-14","p":18.35,"s":"Sin órdenes"}]},"mark":{"type":"text","color":"#303050","fontSize":5,"align":"left","baseline":"middle"},
 "encoding":{"y":{"field":"p","type":"quantitative","axis":null},"text":{"field":"s"}}}
],
"resolve":{"scale":{"y":"shared"},"axis":{"y":"independent"}}
},
{
"width":626,"height":86,
"encoding":{"x":{"field":"t","type":"temporal","scale":{"domain":[{"year":2005,"month":11,"date":12,"utc":true},{"year":2014,"month":12,"date":3,"utc":true}]},"axis":null}},
"layer":[
{"data":{"values":[{"t":"2005-11-18","t2":"2013-07-19","z":0}]},"mark":{"type":"rule","color":"#8c8cff","strokeWidth":2},
 "encoding":{"x2":{"field":"t2"},"y":{"field":"z","type":"quantitative","scale":{"domain":[-1.78,2.04],"nice":false,"zero":false},
  "axis":{"orient":"right","values":[-1,0,1],"labelExpr":"replace(replace(format(datum.value,'.4f'),'.',','),'−','-')","title":null,"grid":false,"domainColor":"#8c8cff","domainWidth":1.5,"tickColor":"#3030e0","tickSize":3,"labelColor":"#3030e0","labelFontSize":5.5,"labelFont":"Liberation Sans","labelPadding":1}}}},
{"data":{"values":[{"t":"2005-11-12","t2":"2014-12-03","z":2.04}]},"mark":{"type":"rule","color":"#a8a8a8","strokeWidth":1.5},
 "encoding":{"x2":{"field":"t2"},"y":{"field":"z","type":"quantitative","axis":null}}},
{"data":{"name":"macd"},"mark":{"type":"line","color":"#707070","strokeWidth":1,"strokeDash":[2,2],"interpolate":"monotone"},
 "encoding":{"y":{"field":"s","type":"quantitative","axis":{"orient":"right","offset":27,"labels":false,"ticks":false,"domainColor":"#8c8cff","domainWidth":1.5,"title":null,"grid":false}}}},
{"data":{"name":"macd"},"mark":{"type":"line","color":"#ff0000","strokeWidth":1.5,"interpolate":"monotone"},
 "encoding":{"y":{"field":"m","type":"quantitative","axis":null}}},
{"data":{"values":[{"t":"2013-06-14","p":0.89}]},"mark":{"type":"point","shape":"M-1,0A1,0.84 0 1,0 1,0A1,0.84 0 1,0 -1,0Z","size":1024,"filled":true,"color":"#f03c3c","opacity":0.55,"strokeWidth":0},
 "encoding":{"y":{"field":"p","type":"quantitative","axis":null}}},
{"data":{"values":[{"t":"2005-12-14","p":1.82,"s":"MACD_KO MACD:","k":"r"},{"t":"2006-08-09","p":1.82,"s":"0,5191","k":"b"},{"t":"2006-11-12","p":1.82,"s":"MediaSIG:","k":"k"},{"t":"2007-03-29","p":1.82,"s":"0,7146","k":"b"},{"t":"2007-07-13","p":1.82,"s":"Band_MACD: 0,0000","k":"b"},{"t":"2008-04-01","p":1.82,"s":"P: 0,4000","k":"r"}]},
 "mark":{"type":"text","fontSize":5,"align":"left","baseline":"middle"},
 "encoding":{"y":{"field":"p","type":"quantitative","axis":null},"text":{"field":"s"},"color":{"field":"k","type":"nominal","scale":{"domain":["r","b","k"],"range":["#ff2020","#2a2af0","#303030"]},"legend":null}}}
],
"resolve":{"scale":{"y":"shared"},"axis":{"y":"independent"}}
},
{
"width":626,"height":62,
"encoding":{"x":{"field":"t","type":"temporal","scale":{"domain":[{"year":2005,"month":11,"date":12,"utc":true},{"year":2014,"month":12,"date":3,"utc":true}]},
 "axis":{"values":[{"year":2006,"month":2,"date":1,"utc":true},{"year":2006,"month":5,"date":1,"utc":true},{"year":2006,"month":9,"date":1,"utc":true},{"year":2007,"month":1,"date":1,"utc":true},{"year":2007,"month":4,"date":1,"utc":true},{"year":2007,"month":7,"date":1,"utc":true},{"year":2007,"month":10,"date":1,"utc":true},{"year":2008,"month":1,"date":1,"utc":true},{"year":2008,"month":3,"date":1,"utc":true},{"year":2008,"month":6,"date":1,"utc":true},{"year":2008,"month":9,"date":1,"utc":true},{"year":2009,"month":1,"date":1,"utc":true},{"year":2009,"month":3,"date":1,"utc":true},{"year":2009,"month":6,"date":1,"utc":true},{"year":2009,"month":9,"date":1,"utc":true},{"year":2009,"month":12,"date":1,"utc":true},{"year":2010,"month":3,"date":1,"utc":true},{"year":2010,"month":6,"date":1,"utc":true},{"year":2010,"month":9,"date":1,"utc":true},{"year":2010,"month":12,"date":1,"utc":true},{"year":2011,"month":3,"date":1,"utc":true},{"year":2011,"month":6,"date":1,"utc":true},{"year":2011,"month":9,"date":1,"utc":true},{"year":2011,"month":12,"date":1,"utc":true},{"year":2012,"month":3,"date":1,"utc":true},{"year":2012,"month":6,"date":1,"utc":true},{"year":2012,"month":9,"date":1,"utc":true},{"year":2012,"month":12,"date":1,"utc":true},{"year":2013,"month":3,"date":1,"utc":true},{"year":2013,"month":6,"date":1,"utc":true},{"year":2013,"month":10,"date":1,"utc":true},{"year":2014,"month":1,"date":1,"utc":true},{"year":2014,"month":4,"date":1,"utc":true},{"year":2014,"month":7,"date":1,"utc":true},{"year":2014,"month":10,"date":1,"utc":true}],
  "labelExpr":"utcmonth(datum.value)==0 ? utcFormat(datum.value,'%y') : ['Ene','Feb','Mar','Abr','May','Jun','Jul','Ago','Sep','Oct','Nov','Dic'][utcmonth(datum.value)]",
  "labelAlign":"left","labelBaseline":"top","labelOffset":1.5,"labelPadding":-4,"tickSize":5,"tickColor":"#404080","labelColor":"#202080","labelFontSize":6.5,"labelFontWeight":"bold","labelFont":"Liberation Sans","domainColor":"#9090c0","title":null,"grid":false,"labelOverlap":false,"labelFlush":false}}},
"layer":[
{"data":{"name":"w"},"mark":{"type":"rule","color":"#8282ff","strokeWidth":1.1},
 "encoding":{"y":{"field":"v","type":"quantitative","scale":{"domain":[0,21400],"nice":false},
  "axis":{"orient":"right","values":[5000,10000,15000],"labelExpr":"replace(format(datum.value,',d'),',','.')","title":null,"grid":false,"domainColor":"#8c8cff","domainWidth":1.5,"tickColor":"#3030e0","tickSize":3,"labelColor":"#3030e0","labelFontSize":5.5,"labelFont":"Liberation Sans","labelPadding":1}},
  "y2":{"datum":0}}},
{"data":{"values":[{"t":"2005-11-12","t2":"2014-12-03","z":21400}]},"mark":{"type":"rule","color":"#a8a8a8","strokeWidth":1.5},
 "encoding":{"x2":{"field":"t2"},"y":{"field":"z","type":"quantitative","axis":null}}},
{"data":{"name":"va"},"mark":{"type":"line","color":"#ff0000","strokeWidth":1.5,"interpolate":"monotone"},
 "encoding":{"y":{"field":"a","type":"quantitative","axis":{"orient":"right","offset":27,"labels":false,"ticks":false,"domainColor":"#8c8cff","domainWidth":1.5,"title":null,"grid":false}}}},
{"data":{"values":[{"t":"2009-02-02","p":15100},{"t":"2013-11-14","p":7650}]},"mark":{"type":"line","color":"#245a96","strokeWidth":1.5},
 "encoding":{"y":{"field":"p","type":"quantitative","axis":null}}},
{"data":{"values":[{"t":"2012-11-05","p":5690}]},"mark":{"type":"point","shape":"M-1,0A1,0.26 0 1,0 1,0A1,0.26 0 1,0 -1,0Z","size":13456,"filled":true,"color":"#f03c3c","opacity":0.55,"strokeWidth":0},
 "encoding":{"y":{"field":"p","type":"quantitative","axis":null}}},
{"data":{"values":[{"t":"2005-12-19","p":19900,"s":"AvSimple_Vol_KO AvSimple:","k":"r"},{"t":"2006-12-19","p":19900,"s":"69.350.807,1923","k":"b"},{"t":"2007-07-28","p":19900,"s":"P: 1.003.620.614,4589","k":"r"}]},
 "mark":{"type":"text","fontSize":5,"align":"left","baseline":"middle"},
 "encoding":{"y":{"field":"p","type":"quantitative","axis":null},"text":{"field":"s"},"color":{"field":"k","type":"nominal","scale":{"domain":["r","b","k"],"range":["#ff2020","#2a2af0","#303030"]},"legend":null}}}
],
"resolve":{"scale":{"y":"shared"},"axis":{"y":"independent"}}
}
]
}
